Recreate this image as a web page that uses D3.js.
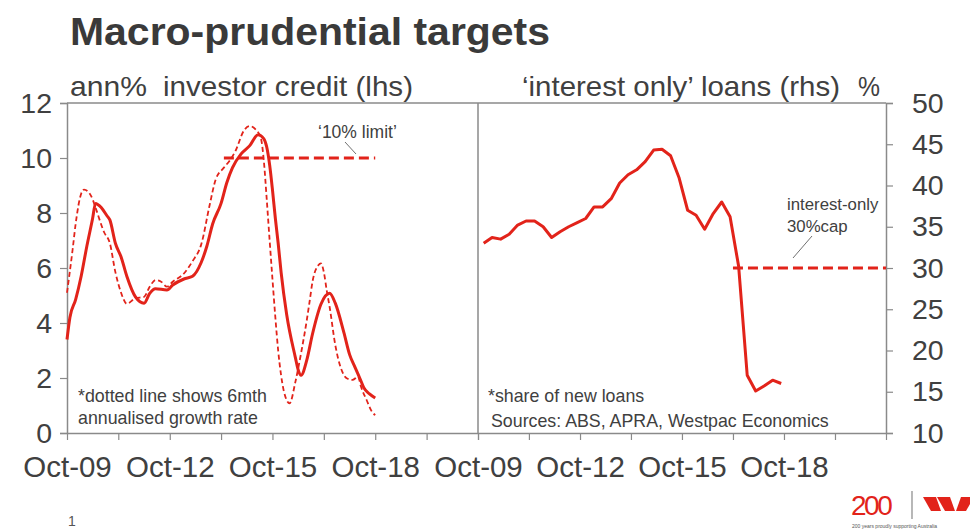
<!DOCTYPE html>
<html>
<head>
<meta charset="utf-8">
<script src="https://cdn.jsdelivr.net/npm/d3@7/dist/d3.min.js"></script>
<style>
  html, body { margin: 0; padding: 0; background: #fff; }
  svg { display: block; font-family: "Liberation Sans", Arial, sans-serif; }
</style>
</head>
<body>
<svg id="chart" width="970" height="530"></svg>
<script>
// Investor credit growth, annual % (solid) and 6-month annualised % (dashed)
const creditAnnualDates = ["2009-10","2009-11","2010-01","2010-03","2010-05","2010-07","2010-08","2010-10","2010-12","2011-01","2011-03","2011-05","2011-07","2011-10","2012-01","2012-03","2012-05","2012-09","2012-11","2013-03","2013-06","2013-09","2013-11","2014-01","2014-04","2014-06","2014-08","2014-11","2015-02","2015-05","2015-07","2015-08","2015-09","2015-10","2015-11","2015-12","2016-01","2016-03","2016-06","2016-07","2016-08","2016-10","2016-12","2017-03","2017-06","2017-08","2017-11","2018-01","2018-03","2018-05","2018-06","2018-08","2018-10"];
const creditAnnual = [3.4,4.2,4.85,5.7,6.8,7.8,8.35,8.2,7.9,7.75,6.9,6.4,5.7,4.95,4.72,5.08,5.25,5.2,5.38,5.6,5.7,6.2,6.8,7.6,8.35,9.1,9.65,10.15,10.45,10.85,10.7,10.4,9.75,8.85,7.8,6.9,5.85,4.3,2.75,2.3,2.1,2.65,3.6,4.68,5.08,4.72,3.65,2.85,2.38,1.9,1.65,1.42,1.27];

const credit6mDates = ["2009-10","2009-12","2010-01","2010-03","2010-04","2010-06","2010-07","2010-08","2010-11","2011-01","2011-03","2011-05","2011-07","2011-10","2012-01","2012-03","2012-05","2012-07","2012-09","2012-11","2013-03","2013-06","2013-09","2013-12","2014-02","2014-05","2014-07","2014-09","2014-12","2015-02","2015-04","2015-06","2015-07","2015-08","2015-09","2015-10","2015-11","2015-12","2016-01","2016-02","2016-04","2016-06","2016-08","2016-10","2016-11","2016-12","2017-02","2017-03","2017-04","2017-05","2017-06","2017-08","2017-09","2017-10","2017-12","2018-02","2018-04","2018-05","2018-07","2018-09","2018-10"];
const credit6m = [5.1,6.7,7.6,8.7,8.85,8.7,8.5,8.2,7.3,6.9,5.85,5.1,4.7,4.9,4.95,5.32,5.56,5.5,5.32,5.5,5.8,6.25,6.85,8.3,9.2,9.65,9.9,10.25,11.0,11.16,11.05,10.7,9.9,8.5,7.0,5.6,4.2,3.0,2.1,1.5,1.08,1.85,2.9,4.1,4.8,5.5,6.1,6.17,5.85,5.2,4.6,3.2,2.7,2.35,1.99,1.93,2.05,1.7,1.2,0.75,0.65];

// Interest-only loans, share of new loans (%), quarterly
const ioDates = ["2009-12","2010-03","2010-06","2010-09","2010-12","2011-03","2011-06","2011-09","2011-12","2012-03","2012-06","2012-09","2012-12","2013-03","2013-06","2013-09","2013-12","2014-03","2014-06","2014-09","2014-12","2015-03","2015-06","2015-09","2015-12","2016-03","2016-06","2016-09","2016-12","2017-03","2017-06","2017-09","2017-12","2018-03","2018-06","2018-09"];
const ioShare = [33.0,33.7,33.5,34.1,35.2,35.7,35.7,35.0,33.7,34.4,35.0,35.5,36.0,37.4,37.4,38.4,40.3,41.3,41.9,42.9,44.3,44.4,43.6,40.9,37.0,36.4,34.7,36.6,38.0,36.2,30.2,17.0,15.1,15.7,16.4,16.0];

// Policy thresholds
const investorLimit = { value: 10, from: "2014-05", to: "2018-10" };
const ioCap = { value: 30, from: "2017-04", to: "2021-10" };

// Axes
const leftTicks = [0, 2, 4, 6, 8, 10, 12];
const rightTicks = [10, 15, 20, 25, 30, 35, 40, 45, 50];
const xTickDates = ["2009-10","2011-04","2012-10","2014-04","2015-10","2017-04","2018-10","2020-04","2021-10"];
const xTickLabels = ["Oct-09", "", "Oct-12", "", "Oct-15", "", "Oct-18", "", ""];

const parse = d3.timeParse("%Y-%m");
const red = "#e2231a";
const ink = "#404040";
const frameGrey = "#8a8a8a";

const svg = d3.select("#chart");

const plotTop = 103, plotBottom = 433;
const leftX0 = 67, midX = 478, rightX1 = 886;
const domainT = [parse("2009-10"), parse("2021-10")];

const xL = d3.scaleTime().domain(domainT).range([leftX0, midX]);
const xR = d3.scaleTime().domain(domainT).range([midX, rightX1]);
const yL = d3.scaleLinear().domain([0, 12]).range([plotBottom, plotTop]);
const yR = d3.scaleLinear().domain([10, 50]).range([plotBottom, plotTop]);

// Title
svg.append("text")
  .attr("x", 70).attr("y", 45)
  .attr("font-size", 39).attr("font-weight", "bold")
  .attr("fill", "#3a3a3a")
  .attr("textLength", 480).attr("lengthAdjust", "spacingAndGlyphs")
  .text("Macro-prudential targets");

// Panel headings
const heading = (x, t, w) => svg.append("text")
  .attr("x", x).attr("y", 96)
  .attr("font-size", 28.5).attr("fill", ink)
  .attr("textLength", w).attr("lengthAdjust", "spacingAndGlyphs").text(t);
heading(70, "ann%", 77);
heading(163, "investor credit (lhs)", 250);
heading(522, "\u2018interest only\u2019 loans (rhs)", 318);
heading(858, "%", 22);

// Frame
const frame = svg.append("g").attr("fill", "none").attr("stroke", frameGrey).attr("stroke-width", 1.5);
frame.append("line").attr("x1", leftX0).attr("x2", rightX1).attr("y1", plotTop).attr("y2", plotTop);
frame.append("line").attr("x1", midX).attr("x2", midX).attr("y1", plotTop).attr("y2", plotBottom);

// Left value axis
const axL = svg.append("g").attr("transform", `translate(${leftX0},0)`)
  .call(d3.axisLeft(yL).tickValues(leftTicks).tickSize(7).tickPadding(8).tickFormat(d3.format("d")));

// Right value axis
const axR = svg.append("g").attr("transform", `translate(${rightX1},0)`)
  .call(d3.axisRight(yR).tickValues(rightTicks).tickSize(7).tickPadding(19).tickFormat(d3.format("d")));

// Time axes
const tickDates = xTickDates.map(parse);
const labelFor = (d, i) => xTickLabels[i];
const axBL = svg.append("g").attr("transform", `translate(0,${plotBottom})`)
  .call(d3.axisBottom(xL).tickValues(tickDates).tickSize(7).tickSizeOuter(0).tickPadding(16).tickFormat(labelFor));
const axBR = svg.append("g").attr("transform", `translate(0,${plotBottom})`)
  .call(d3.axisBottom(xR).tickValues(tickDates).tickSize(7).tickSizeOuter(0).tickPadding(16).tickFormat(labelFor));

[axL, axR].forEach(g => {
  g.selectAll("text").attr("font-size", 28.5);
});
[axBL, axBR].forEach(g => {
  g.selectAll("text").attr("font-size", 29.5);
});
[axL, axR, axBL, axBR].forEach(g => {
  g.selectAll(".domain").attr("stroke", frameGrey).attr("stroke-width", 1.5);
  g.selectAll(".tick line").attr("stroke", frameGrey).attr("stroke-width", 1.2);
  g.selectAll("text").attr("fill", ink)
    .attr("font-family", "'Liberation Sans', Arial, sans-serif");
});

// Series
const lineL = d3.line().x(d => xL(d[0])).y(d => yL(d[1]));
const lineR = d3.line().x(d => xR(d[0])).y(d => yR(d[1]));

const annualPts = creditAnnualDates.map((d, i) => [parse(d), creditAnnual[i]]);
const sixPts = credit6mDates.map((d, i) => [parse(d), credit6m[i]]);
const ioPts = ioDates.map((d, i) => [parse(d), ioShare[i]]);

svg.append("path").datum(sixPts)
  .attr("d", lineL.curve(d3.curveMonotoneX))
  .attr("fill", "none").attr("stroke", red).attr("stroke-width", 1.8)
  .attr("stroke-dasharray", "5,3");

svg.append("path").datum(annualPts)
  .attr("d", lineL.curve(d3.curveMonotoneX))
  .attr("fill", "none").attr("stroke", red).attr("stroke-width", 3)
  .attr("stroke-linejoin", "round");

svg.append("path").datum(ioPts)
  .attr("d", lineR.curve(d3.curveLinear))
  .attr("fill", "none").attr("stroke", red).attr("stroke-width", 3)
  .attr("stroke-linejoin", "round");

// Thresholds
svg.append("line")
  .attr("x1", xL(parse(investorLimit.from))).attr("x2", xL(parse(investorLimit.to)))
  .attr("y1", yL(investorLimit.value)).attr("y2", yL(investorLimit.value))
  .attr("stroke", red).attr("stroke-width", 3).attr("stroke-dasharray", "10,5");

svg.append("line")
  .attr("x1", xR(parse(ioCap.from))).attr("x2", xR(parse(ioCap.to)))
  .attr("y1", yR(ioCap.value)).attr("y2", yR(ioCap.value))
  .attr("stroke", red).attr("stroke-width", 3).attr("stroke-dasharray", "10,5");

// Annotations
const note = (x, y, t, size) => svg.append("text")
  .attr("x", x).attr("y", y).attr("font-size", size || 17).attr("fill", ink).text(t);

note(318, 138, "\u201810% limit\u2019", 17.5);
svg.append("line").attr("x1", 345).attr("y1", 142).attr("x2", 356).attr("y2", 154)
  .attr("stroke", "#707070").attr("stroke-width", 1);

note(787, 210, "interest-only", 16.8);
note(787, 232, "30%cap", 16.8);
svg.append("line").attr("x1", 812).attr("y1", 236).attr("x2", 793).attr("y2", 258)
  .attr("stroke", "#707070").attr("stroke-width", 1);

note(78, 402, "*dotted line shows 6mth", 17.8);
note(78, 424, "annualised growth rate", 17.8);
note(488, 402, "*share of new loans", 17.8);
note(491, 427, "Sources: ABS, APRA, Westpac Economics", 17.8);

// Footer: page number and logo
note(68, 526, "1", 14).attr("fill", "#555");

const logo = svg.append("g");
logo.append("text").attr("x", 851).attr("y", 515)
  .attr("font-size", 28).attr("fill", red).attr("letter-spacing", -2.5)
  .text("200");
logo.append("line").attr("x1", 912).attr("x2", 912).attr("y1", 491).attr("y2", 519)
  .attr("stroke", "#888").attr("stroke-width", 1.2);
logo.append("polygon").attr("points", "923,497 936,497 941,511 931,511").attr("fill", red);
logo.append("polygon").attr("points", "937,497 950,497 955,511 945,511").attr("fill", red);
logo.append("polygon").attr("points", "961,497 974,497 966,511 956,511").attr("fill", red);
logo.append("text").attr("x", 852).attr("y", 528).attr("font-size", 5).attr("fill", "#555")
  .text("200 years proudly supporting Australia");
</script>
</body>
</html>
